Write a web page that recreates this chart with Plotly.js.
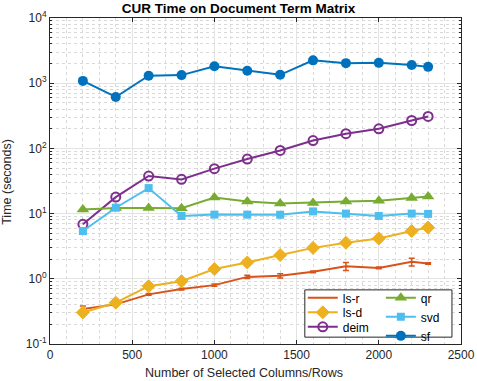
<!DOCTYPE html>
<html>
<head>
<meta charset="utf-8">
<script src="https://cdn.plot.ly/plotly-3.0.1.min.js"></script>
<style>
  html, body { margin: 0; padding: 0; background: white; }
  #chart { width: 477px; height: 381px; }
</style>
</head>
<body>
<div id="chart"></div>
<script>
// Column counts (x axis)
var cols = [200, 400, 600, 800, 1000, 1200, 1400, 1600, 1800, 2000, 2200, 2300];

// Timings in seconds
var lsR    = [0.343, 0.405, 0.577, 0.695, 0.80, 1.07, 1.11, 1.28, 1.56, 1.47, 1.82, 1.72];
var lsRErr = [0.04, 0.02, 0.02, 0.02, 0.03, 0.06, 0.08, 0.04, 0.22, 0.05, 0.25, 0.05];
var lsD    = [0.305, 0.43, 0.77, 0.92, 1.41, 1.78, 2.31, 2.98, 3.56, 4.15, 5.4, 6.1];
var deim   = [6.85, 17.9, 37.7, 33.5, 48.9, 68.6, 93, 132, 168, 200, 268, 309];
var qr     = [11.6, 12.2, 12.2, 12.1, 17.6, 15.3, 14.3, 14.6, 15.3, 15.8, 17.3, 18.3];
var svd    = [5.4, 12.3, 24.6, 9.2, 9.65, 9.65, 9.6, 10.8, 10.0, 9.2, 10.0, 9.9];
var sf     = [1085, 615, 1300, 1330, 1820, 1550, 1345, 2240, 2030, 2050, 1900, 1780];

var yTickVals = [0.1, 1, 10, 100, 1000, 10000];
var yTickText = ['10<sup>-1</sup>', '10<sup>0</sup>', '10<sup>1</sup>',
                 '10<sup>2</sup>', '10<sup>3</sup>', '10<sup>4</sup>'];

// MATLAB default colour order
var C = {
  red: '#D95319', yellow: '#EDB120', purple: '#7E2F8E',
  green: '#77AC30', cyan: '#4DBEEE', blue: '#0072BD'
};

// minor log ticks 2..9 per decade
var yMinor = [];
for (var d = -1; d < 4; d++) {
  for (var k = 2; k <= 9; k++) yMinor.push(k * Math.pow(10, d));
}

var traces = [
  { x: cols, y: lsR, name: 'ls-r', mode: 'lines', legend: 'legend',
    line: {color: C.red, width: 2},
    error_y: {type: 'data', array: lsRErr, color: C.red, thickness: 1.5, width: 3} },
  { x: cols, y: lsD, name: 'ls-d', mode: 'lines+markers', legend: 'legend',
    line: {color: C.yellow, width: 2},
    marker: {symbol: 'diamond', size: 10, color: C.yellow, line: {color: C.yellow, width: 1}} },
  { x: cols, y: deim, name: 'deim', mode: 'lines+markers', legend: 'legend',
    line: {color: C.purple, width: 2},
    marker: {symbol: 'circle-open', size: 9, color: C.purple, line: {color: C.purple, width: 2}} },
  { x: cols, y: qr, name: 'qr', mode: 'lines+markers', legend: 'legend2',
    line: {color: C.green, width: 2},
    marker: {symbol: 'triangle-up', size: 11, color: C.green} },
  { x: cols, y: svd, name: 'svd', mode: 'lines+markers', legend: 'legend2',
    line: {color: C.cyan, width: 2},
    marker: {symbol: 'square', size: 8, color: C.cyan} },
  { x: cols, y: sf, name: 'sf', mode: 'lines+markers', legend: 'legend2',
    line: {color: C.blue, width: 2},
    marker: {symbol: 'circle', size: 10, color: C.blue} }
];

var font = {family: '"Liberation Sans", Arial, sans-serif', size: 12, color: '#262626'};
var axisCommon = {
  showline: true, linecolor: '#262626', linewidth: 1, mirror: 'ticks',
  ticks: 'inside', ticklen: 4, tickcolor: '#262626',
  gridcolor: '#e3e3e3', zeroline: false,
  tickfont: {size: 12, color: '#262626'}
};

var legendCommon = {
  bgcolor: 'rgba(0,0,0,0)', borderwidth: 0, font: {size: 12, color: '#000'},
  xanchor: 'left', yanchor: 'top', tracegroupgap: 0, itemwidth: 30
};

var layout = {
  width: 477, height: 381,
  font: font,
  title: {text: '<b>CUR Time on Document Term Matrix</b>', font: {size: 13.5, color: '#000'},
          x: 0.5, xanchor: 'center', y: 0.99, yanchor: 'top'},
  margin: {l: 50, r: 16, t: 18, b: 37},
  xaxis: Object.assign({}, axisCommon, {
    range: [0, 2500], dtick: 500, tick0: 0,
    minor: {dtick: 100, showgrid: true, gridcolor: '#d9d9d9', griddash: 'dot', ticks: ''}
  }),
  yaxis: Object.assign({}, axisCommon, {
    type: 'log', range: [-1, 4],
    tickvals: yTickVals, ticktext: yTickText,
    minor: {tickvals: yMinor, showgrid: true, gridcolor: '#d9d9d9', griddash: 'dot',
            ticks: 'inside', ticklen: 2, tickcolor: '#262626'}
  }),
  annotations: [
    {text: 'Number of Selected Columns/Rows', xref: 'paper', yref: 'paper',
     x: 0.471, y: -0.089, xanchor: 'center', yanchor: 'middle', showarrow: false,
     font: {size: 12.5, color: '#262626'}},
    {text: 'Time (seconds)', xref: 'paper', yref: 'paper', textangle: -90,
     x: -0.105, y: 0.497, xanchor: 'center', yanchor: 'middle', showarrow: false,
     font: {size: 12.5, color: '#262626'}}
  ],
  showlegend: true,
  legend: Object.assign({}, legendCommon, {x: 0.615, y: 0.186}),
  legend2: Object.assign({}, legendCommon, {x: 0.805, y: 0.186}),
  shapes: [
    {type: 'rect', xref: 'paper', yref: 'paper', x0: 0.62, x1: 0.978, y0: 0.021, y1: 0.166,
     fillcolor: 'white', line: {color: '#262626', width: 1}, layer: 'above'}
  ],
  plot_bgcolor: 'white', paper_bgcolor: 'white'
};

Plotly.newPlot('chart', traces, layout, {displayModeBar: false, staticPlot: true})
  .then(function (gd) {
    // Plotly keeps legend rows at least 19px apart; squeeze them to match the tighter box
    var k = 14.5 / 19;
    gd.querySelectorAll('.legend').forEach(function (leg) {
      var items = leg.querySelectorAll('g.traces');
      var y0 = null;
      items.forEach(function (it) {
        var m = /translate\(\s*([-\d.]+)[ ,]+([-\d.]+)\s*\)/.exec(it.getAttribute('transform') || '');
        if (!m) return;
        var x = parseFloat(m[1]), y = parseFloat(m[2]);
        if (y0 === null) y0 = y;
        it.setAttribute('transform', 'translate(' + x + ',' + (y0 + (y - y0) * k) + ')');
      });
    });
  });
</script>
</body>
</html>
